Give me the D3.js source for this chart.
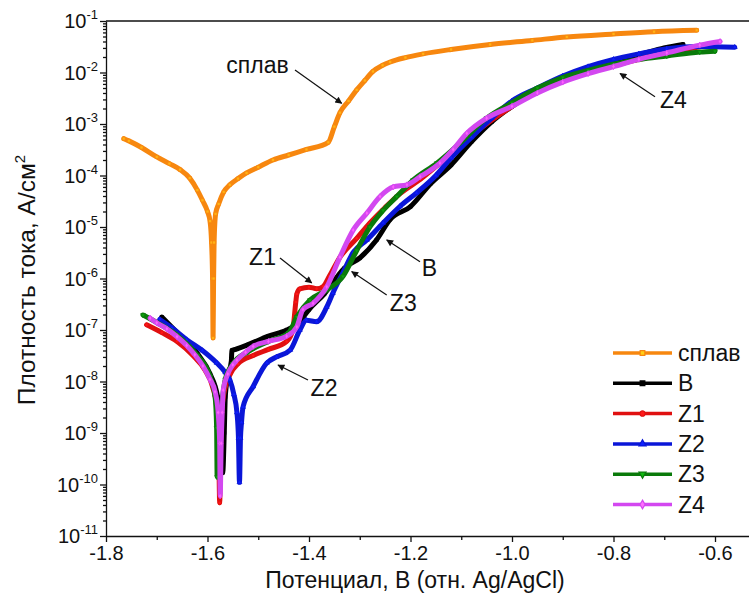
<!DOCTYPE html>
<html>
<head>
<meta charset="utf-8">
<title>Поляризационные кривые</title>
<script src="https://d3js.org/d3.v7.min.js"></script>
<style>
  body { margin: 0; background: #fff; }
  text { font-family: Arial, "Liberation Sans", sans-serif; fill: #111; }
</style>
</head>
<body>
<div id="chart"></div>
<script>
// series names and colors
var seriesNames = ["сплав", "B", "Z1", "Z2", "Z3", "Z4"];
var seriesColors = ["#f7870f", "#000000", "#e01010", "#0a16d8", "#0a7a0a", "#d348f0"];
var seriesSymbols = ["square", "square", "circle", "triangle", "triangleDown", "diamond"];

// potential (V vs Ag/AgCl) and current density (A/cm2)
var splavE = [-1.765, -1.755, -1.73, -1.70, -1.675, -1.654, -1.635, -1.62, -1.61, -1.60, -1.595, -1.592, -1.590, -1.589, -1.588, -1.587, -1.584, -1.578, -1.568, -1.556, -1.54, -1.523, -1.50, -1.471, -1.44, -1.405, -1.362, -1.35, -1.339, -1.322, -1.306, -1.29, -1.274, -1.255, -1.24, -1.21, -1.175, -1.12, -1.043, -0.96, -0.892, -0.80, -0.72, -0.636];
var splavJ = [5.2e-4, 4.7e-4, 3.5e-4, 2.3e-4, 1.7e-4, 1.3e-4, 8.9e-5, 5.2e-5, 3.3e-5, 2.0e-5, 1.3e-5, 5e-6, 1e-6, 7e-8, 1e-6, 5e-6, 1.8e-5, 2.8e-5, 4.8e-5, 6.6e-5, 8.7e-5, 1.12e-4, 1.45e-4, 2.0e-4, 2.5e-4, 3.2e-4, 4.4e-4, 8.9e-4, 1.66e-3, 2.8e-3, 4.6e-3, 7e-3, 1.05e-2, 1.38e-2, 1.6e-2, 1.95e-2, 2.3e-2, 2.8e-2, 3.5e-2, 4.2e-2, 4.9e-2, 5.6e-2, 6.2e-2, 6.6e-2];

var bE = [-1.69, -1.66, -1.62, -1.595, -1.58, -1.574, -1.570, -1.567, -1.565, -1.56, -1.553, -1.552, -1.545, -1.52, -1.48, -1.444, -1.42, -1.40, -1.37, -1.33, -1.30, -1.267, -1.24, -1.20, -1.16, -1.12, -1.08, -1.04, -1.0, -0.95, -0.9, -0.85, -0.8, -0.75, -0.7, -0.663];
var bJ = [1.78e-7, 8.9e-8, 3.5e-8, 1.4e-8, 5e-9, 1.26e-9, 1.7e-10, 1e-9, 5e-9, 1.26e-8, 2.5e-8, 4e-8, 4.2e-8, 5.2e-8, 7.6e-8, 1e-7, 1.4e-7, 2.5e-7, 5e-7, 1.6e-6, 2.5e-6, 5.6e-6, 1.4e-5, 2.5e-5, 7e-5, 1.6e-4, 4.5e-4, 1.1e-3, 2.2e-3, 4.5e-3, 7.9e-3, 1.2e-2, 1.66e-2, 2.2e-2, 3e-2, 3.5e-2];

var z1E = [-1.72, -1.69, -1.66, -1.63, -1.605, -1.59, -1.582, -1.578, -1.576, -1.574, -1.572, -1.568, -1.555, -1.54, -1.51, -1.48, -1.444, -1.432, -1.426, -1.424, -1.418, -1.40, -1.385, -1.372, -1.36, -1.34, -1.306, -1.28, -1.25, -1.22, -1.18, -1.14, -1.10, -1.06, -1.0, -0.95, -0.9, -0.85, -0.8, -0.75, -0.70, -0.62];
var z1J = [1.26e-7, 8.9e-8, 6e-8, 3.3e-8, 1.66e-8, 7.9e-9, 3.2e-9, 6.3e-10, 4.4e-11, 6.3e-10, 2.5e-9, 5.6e-9, 1.4e-8, 2.2e-8, 3.2e-8, 4.2e-8, 6e-8, 1e-7, 3.5e-7, 5e-7, 6.3e-7, 6.8e-7, 6.3e-7, 7e-7, 1.1e-6, 2.5e-6, 6e-6, 1.2e-5, 2.4e-5, 4.5e-5, 8.5e-5, 1.8e-4, 3.8e-4, 8.5e-4, 2.2e-3, 4.5e-3, 7.2e-3, 1e-2, 1.35e-2, 1.8e-2, 2.3e-2, 3.3e-2];

var z2E = [-1.694, -1.67, -1.641, -1.61, -1.582, -1.565, -1.556, -1.548, -1.542, -1.539, -1.537, -1.535, -1.533, -1.530, -1.51, -1.483, -1.464, -1.437, -1.418, -1.405, -1.385, -1.365, -1.353, -1.333, -1.313, -1.286, -1.254, -1.221, -1.188, -1.15, -1.12, -1.08, -1.04, -1.0, -0.95, -0.9, -0.85, -0.8, -0.75, -0.695, -0.63, -0.561];
var z2J = [1.6e-7, 1.1e-7, 6.5e-8, 4e-8, 2.3e-8, 1.5e-8, 1.07e-8, 5.6e-9, 2.5e-9, 8e-10, 1.1e-10, 8e-10, 1.6e-9, 3.2e-9, 8e-9, 2.3e-8, 3e-8, 4.1e-8, 1e-7, 1.55e-7, 1.45e-7, 2.8e-7, 5.2e-7, 1.3e-6, 3.2e-6, 5.6e-6, 1.2e-5, 2.5e-5, 4.6e-5, 1e-4, 2.2e-4, 5.5e-4, 1.3e-3, 2.8e-3, 5e-3, 8.5e-3, 1.3e-2, 1.8e-2, 2.3e-2, 2.9e-2, 3.2e-2, 3.1e-2];

var z3E = [-1.727, -1.70, -1.66, -1.62, -1.595, -1.585, -1.582, -1.581, -1.579, -1.576, -1.572, -1.565, -1.55, -1.52, -1.48, -1.44, -1.424, -1.398, -1.365, -1.333, -1.306, -1.28, -1.254, -1.227, -1.195, -1.148, -1.10, -1.05, -1.0, -0.95, -0.9, -0.85, -0.8, -0.75, -0.695, -0.63, -0.60];
var z3J = [1.95e-7, 1.4e-7, 7.9e-8, 3.2e-8, 1.26e-8, 5e-9, 1.26e-9, 1.4e-10, 1e-9, 2.5e-9, 4e-9, 1.1e-8, 2.2e-8, 3.8e-8, 6e-8, 8.9e-8, 1.8e-7, 3.8e-7, 6e-7, 1.1e-6, 3.5e-6, 1e-5, 2.1e-5, 3.9e-5, 8.1e-5, 1.74e-4, 4.5e-4, 1.3e-3, 2.6e-3, 5e-3, 8e-3, 1.1e-2, 1.45e-2, 1.8e-2, 2.1e-2, 2.5e-2, 2.6e-2];

var z4E = [-1.713, -1.70, -1.68, -1.66, -1.641, -1.625, -1.609, -1.595, -1.585, -1.579, -1.576, -1.575, -1.573, -1.571, -1.569, -1.56, -1.55, -1.542, -1.525, -1.51, -1.48, -1.444, -1.424, -1.412, -1.392, -1.365, -1.339, -1.313, -1.286, -1.26, -1.234, -1.207, -1.181, -1.142, -1.116, -1.089, -1.05, -1.0, -0.95, -0.9, -0.85, -0.8, -0.75, -0.695, -0.63, -0.59];
var z4J = [1.7e-7, 1.38e-7, 1.05e-7, 7.4e-8, 5e-8, 3.3e-8, 2e-8, 1.1e-8, 6.3e-9, 2.5e-9, 6.3e-10, 6e-11, 6.3e-10, 2.5e-9, 6.8e-9, 1.4e-8, 2.1e-8, 2.6e-8, 3.7e-8, 4.8e-8, 6e-8, 7.6e-8, 1.15e-7, 2.5e-7, 3.3e-7, 6.9e-7, 2.6e-6, 8.7e-6, 1.86e-5, 3.9e-5, 6e-5, 6.6e-5, 9.5e-5, 1.74e-4, 3.2e-4, 6.6e-4, 1.3e-3, 2.2e-3, 4e-3, 6.5e-3, 9.5e-3, 1.3e-2, 1.8e-2, 2.4e-2, 3.4e-2, 4e-2];

// axis ticks
var xTicks = [-1.8, -1.6, -1.4, -1.2, -1.0, -0.8, -0.6];
var xMinorTicks = [-1.7, -1.5, -1.3, -1.1, -0.9, -0.7, -0.5];
var yExponents = [-11, -10, -9, -8, -7, -6, -5, -4, -3, -2, -1];

// arrow labels: text, text pos, arrow start, arrow end (E, j)
var labelTexts = ["сплав", "Z1", "B", "Z3", "Z2", "Z4"];
var labelPos = [[-1.5015, 9.8e-3], [-1.4916, 1.83e-6], [-1.1626, 1.12e-6], [-1.2142, 2.34e-7], [-1.3704, 5.2e-9], [-0.6818, 2.05e-3]];
var arrowFrom = [[-1.4276, 1.12e-2], [-1.4571, 2.5e-6], [-1.1813, 2.12e-6], [-1.2469, 4.8e-7], [-1.402, 1.07e-8], [-0.7182, 3.39e-3]];
var arrowTo = [[-1.3356, 2.52e-3], [-1.3947, 8.2e-7], [-1.2469, 5.6e-6], [-1.3159, 1.36e-6], [-1.4611, 2.09e-8], [-0.7872, 9.6e-3]];

var allE = [splavE, bE, z1E, z2E, z3E, z4E];
var allJ = [splavJ, bJ, z1J, z2J, z3J, z4J];

var W = 749, H = 603;
var mLeft = 106, mTop = 21, mBottom = 536;

var svg = d3.select("#chart").append("svg")
    .attr("width", W)
    .attr("height", H);

var x = d3.scaleLinear().domain([-1.8, -0.5]).range([mLeft, mLeft + 1.3 * 507.5]);
var y = d3.scaleLog().domain([1e-11, 1e-1]).range([mBottom, mTop]);

var defs = svg.append("defs");
defs.append("clipPath").attr("id", "plotclip")
    .append("rect")
    .attr("x", mLeft).attr("y", mTop)
    .attr("width", W - mLeft).attr("height", mBottom - mTop);

defs.append("marker")
    .attr("id", "arrow")
    .attr("viewBox", "0 0 10 10")
    .attr("refX", 9).attr("refY", 5)
    .attr("markerWidth", 10).attr("markerHeight", 7)
    .attr("markerUnits", "userSpaceOnUse")
    .attr("orient", "auto")
    .append("path")
    .attr("d", "M0,0 L10,5 L0,10 z")
    .attr("fill", "#111");

var symbolTypes = {
    square: d3.symbolSquare,
    circle: d3.symbolCircle,
    triangle: d3.symbolTriangle,
    triangleDown: d3.symbolTriangle,
    diamond: d3.symbolDiamond
};

function symbolPath(name, size) {
    return d3.symbol().type(symbolTypes[name]).size(size)();
}

// curves
var plot = svg.append("g").attr("clip-path", "url(#plotclip)");
var line = d3.line()
    .x(function (d) { return x(d[0]); })
    .y(function (d) { return y(d[1]); })
    .curve(d3.curveMonotoneX);

seriesNames.forEach(function (name, i) {
    var pts = allE[i].map(function (e, k) { return [e, allJ[i][k]]; });
    var color = seriesColors[i];
    plot.append("path")
        .datum(pts)
        .attr("fill", "none")
        .attr("stroke", color)
        .attr("stroke-width", 5)
        .attr("stroke-linejoin", "round")
        .attr("stroke-linecap", "round")
        .attr("d", line);
    plot.append("g")
        .selectAll("path")
        .data(pts)
        .enter()
        .append("path")
        .attr("transform", function (d) {
            var rot = seriesSymbols[i] === "triangleDown" ? " rotate(180)" : "";
            return "translate(" + x(d[0]) + "," + y(d[1]) + ")" + rot;
        })
        .attr("d", symbolPath(seriesSymbols[i], 10))
        .attr("fill", d3.color(color).brighter(0.8))
        .attr("stroke", color)
        .attr("stroke-width", 0.8);
});

// axes
var xAxis = svg.append("g")
    .attr("transform", "translate(0," + mBottom + ")")
    .call(d3.axisBottom(x).tickValues(xTicks).tickSize(6).tickSizeOuter(0)
        .tickFormat(function (d) { return d.toFixed(1); }));
xAxis.selectAll("text").attr("font-size", 20).attr("dy", "0.75em").attr("fill", "#111");
svg.append("g")
    .attr("transform", "translate(0," + mBottom + ")")
    .call(d3.axisBottom(x).tickValues(xMinorTicks).tickSize(4).tickFormat(""))
    .select(".domain").remove();

var yMinor = [];
yExponents.slice(0, -1).forEach(function (p) {
    for (var m = 2; m <= 9; m++) yMinor.push(m * Math.pow(10, p));
});
svg.append("g")
    .attr("transform", "translate(" + mLeft + ",0)")
    .call(d3.axisLeft(y).tickValues(yExponents.map(function (p) { return Math.pow(10, p); }))
        .tickSize(6).tickSizeOuter(0).tickFormat(""));
svg.append("g")
    .attr("transform", "translate(" + mLeft + ",0)")
    .call(d3.axisLeft(y).tickValues(yMinor).tickSize(3).tickFormat(""))
    .select(".domain").remove();
svg.selectAll(".domain, .tick line").attr("stroke", "#111").attr("stroke-width", 1.3);

yExponents.forEach(function (p) {
    var t = svg.append("text")
        .attr("x", mLeft - 8)
        .attr("y", y(Math.pow(10, p)) + 7)
        .attr("text-anchor", "end")
        .attr("font-size", 20);
    t.append("tspan").text("10");
    t.append("tspan").attr("dy", -9).attr("font-size", 13).text(String(p));
});

// top border
svg.append("line")
    .attr("x1", mLeft).attr("x2", W)
    .attr("y1", mTop).attr("y2", mTop)
    .attr("stroke", "#111").attr("stroke-width", 1.3);

// axis titles
svg.append("text")
    .attr("x", 415).attr("y", 588)
    .attr("text-anchor", "middle")
    .attr("font-size", 23)
    .text("Потенциал, В (отн. Ag/AgCl)");
var yt = svg.append("text")
    .attr("transform", "translate(35,280) rotate(-90)")
    .attr("text-anchor", "middle")
    .attr("font-size", 24.5);
yt.append("tspan").text("Плотность тока, А/см");
yt.append("tspan").attr("dy", -10).attr("font-size", 15).text("2");

// annotations
labelTexts.forEach(function (t, i) {
    svg.append("text")
        .attr("x", x(labelPos[i][0]))
        .attr("y", y(labelPos[i][1]))
        .attr("text-anchor", "middle")
        .attr("font-size", 23)
        .text(t);
    svg.append("line")
        .attr("x1", x(arrowFrom[i][0])).attr("y1", y(arrowFrom[i][1]))
        .attr("x2", x(arrowTo[i][0])).attr("y2", y(arrowTo[i][1]))
        .attr("stroke", "#111").attr("stroke-width", 1.2)
        .attr("marker-end", "url(#arrow)");
});

// legend
var legend = svg.append("g").attr("transform", "translate(613,353)");
seriesNames.forEach(function (name, i) {
    var g = legend.append("g").attr("transform", "translate(0," + (i * 30.3) + ")");
    g.append("line").attr("x1", 0).attr("x2", 59).attr("y1", 0).attr("y2", 0)
        .attr("stroke", seriesColors[i]).attr("stroke-width", 3.5);
    g.append("path")
        .attr("transform", "translate(29.5,0)" + (seriesSymbols[i] === "triangleDown" ? " rotate(180)" : ""))
        .attr("d", symbolPath(seriesSymbols[i], 22))
        .attr("fill", d3.color(seriesColors[i]).brighter(1.2))
        .attr("stroke", seriesColors[i]).attr("stroke-width", 1.2);
    g.append("text").attr("x", 65).attr("y", 8).attr("font-size", 23).text(name);
});
</script>
</body>
</html>
